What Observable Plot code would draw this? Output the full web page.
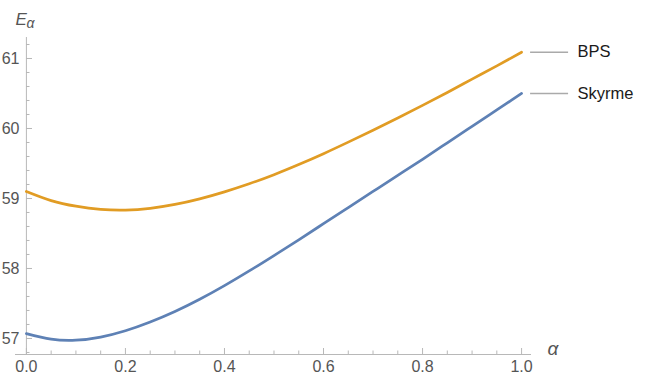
<!DOCTYPE html>
<html><head><meta charset="utf-8">
<script src="https://cdn.jsdelivr.net/npm/d3@7"></script>
<script src="https://cdn.jsdelivr.net/npm/@observablehq/plot@0.6"></script>
<style>body{margin:0;background:#fff} svg{display:block}</style>
</head><body><div id="chart"></div>
<script>
const alphaValues = [0,0.05,0.1,0.15,0.2,0.25,0.3,0.35,0.4,0.45,0.5,0.55,0.6,0.65,0.7,0.75,0.8,0.85,0.9,0.95,1.0];
const bpsValues = [59.10,58.97,58.89,58.845,58.835,58.86,58.915,58.995,59.095,59.21,59.34,59.485,59.64,59.805,59.975,60.15,60.33,60.515,60.705,60.895,61.09];
const skyrmeValues = [57.07,56.99,56.975,57.02,57.11,57.235,57.385,57.56,57.755,57.965,58.185,58.41,58.64,58.87,59.10,59.33,59.56,59.795,60.03,60.265,60.50];
const seriesNames = ["BPS", "Skyrme"];
const seriesColors = ["#E19C24", "#5E81B5"];
const yTickLabels = [57, 58, 59, 60, 61];
const yMinorTicks = [56.8,57.2,57.4,57.6,57.8,58.2,58.4,58.6,58.8,59.2,59.4,59.6,59.8,60.2,60.4,60.6,60.8,61.2];
const xTickLabels = [0, 0.2, 0.4, 0.6, 0.8, 1.0];
const xMinorTicks = [0.05,0.1,0.15,0.25,0.3,0.35,0.45,0.5,0.55,0.65,0.7,0.75,0.85,0.9,0.95];

const rows = [];
[bpsValues, skyrmeValues].forEach((vals, s) => {
  vals.forEach((v, i) => rows.push({alpha: alphaValues[i], value: v, series: seriesNames[s]}));
});
const lastRows = seriesNames.map((name, s) => ({alpha: alphaValues[alphaValues.length - 1], value: [bpsValues, skyrmeValues][s][alphaValues.length - 1], series: name}));

const W = 664, H = 388, mL = 15, mR = 134, mT = 37, mB = 34;
const pw = W - mL - mR, ph = H - mT - mB;
const axisColor = "#b8b8b8";
const labelColor = "#555";
const font = "Liberation Sans, Arial, Helvetica, sans-serif";

const chart = Plot.plot({
  width: W, height: H,
  marginLeft: mL, marginRight: mR, marginTop: mT, marginBottom: mB,
  style: {fontFamily: font, background: "white", overflow: "visible"},
  x: {domain: [-0.022, 1.018], axis: null},
  y: {domain: [56.771, 61.3], axis: null},
  color: {domain: seriesNames, range: seriesColors},
  marks: [
    Plot.ruleX([0], {stroke: axisColor, strokeWidth: 1}),
    Plot.frame({anchor: "bottom", stroke: axisColor, strokeWidth: 1}),
    Plot.tickY(yTickLabels, {y: d => d, stroke: axisColor, insetLeft: 11, insetRight: pw - 11 - 6}),
    Plot.tickY(yMinorTicks, {y: d => d, stroke: axisColor, insetLeft: 11, insetRight: pw - 11 - 3.5}),
    Plot.tickX(xTickLabels, {x: d => d, stroke: axisColor, insetTop: ph - 6}),
    Plot.tickX(xMinorTicks, {x: d => d, stroke: axisColor, insetTop: ph - 3.5}),
    Plot.text(yTickLabels, {y: d => d, text: d => String(d), frameAnchor: "left", textAnchor: "end", dx: 4, fontSize: 16, fill: labelColor}),
    Plot.text(xTickLabels, {x: d => d, text: d => d.toFixed(1), frameAnchor: "bottom", dy: 17, fontSize: 16, fill: labelColor}),
    Plot.line(rows, {x: "alpha", y: "value", stroke: "series", z: "series", curve: "natural", strokeWidth: 2.7}),
    Plot.ruleY(lastRows, {y: "value", x1: "alpha", x2: "alpha", insetLeft: 9, insetRight: -47, stroke: "#aaaaaa", strokeWidth: 1.5}),
    Plot.text(lastRows, {x: "alpha", y: "value", text: "series", dx: 56, textAnchor: "start", fontSize: 16.5, fill: "#1a1a1a"}),
    Plot.text(["E"], {frameAnchor: "top-left", text: d => d, dx: 0, dy: -25, textAnchor: "start", fontSize: 17, fontStyle: "italic", fill: labelColor}),
    Plot.text(["α"], {frameAnchor: "top-left", text: d => d, dx: 11, dy: -19, textAnchor: "start", fontSize: 14, fontStyle: "italic", fill: labelColor}),
    Plot.text(["α"], {frameAnchor: "bottom-right", text: d => d, dx: 17, dy: 0, textAnchor: "start", fontSize: 19, fontStyle: "italic", fill: labelColor})
  ]
});
document.getElementById("chart").appendChild(chart);
</script>
</body></html>
